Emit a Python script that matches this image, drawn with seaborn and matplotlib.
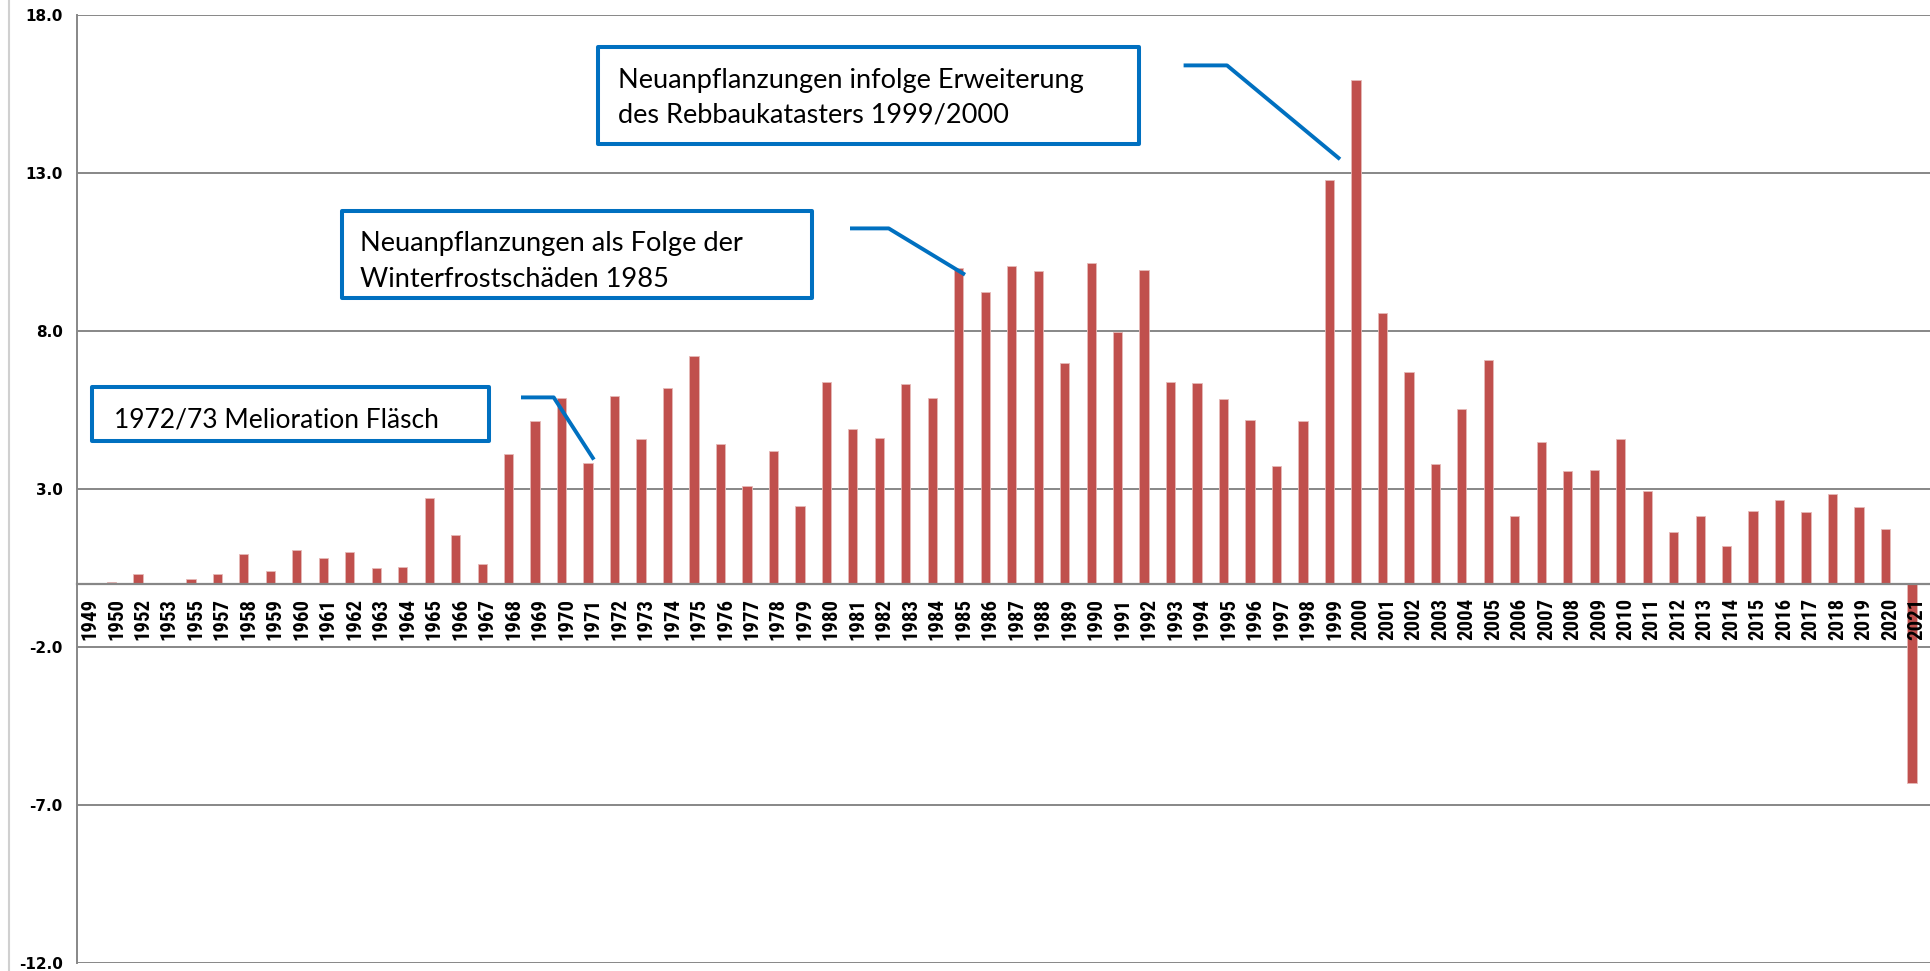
import matplotlib
matplotlib.use("Agg")
import numpy as np
import pandas as pd
import matplotlib.pyplot as plt
import seaborn as sns
from matplotlib import font_manager as fm
from matplotlib.lines import Line2D
from matplotlib.patches import Rectangle
import matplotlib.transforms as mtransforms

# ---------------- data ----------------
years = ["1949", "1950", "1952", "1953", "1955", "1957", "1958", "1959", "1960",
         "1961", "1962", "1963", "1964", "1965", "1966", "1967", "1968", "1969",
         "1970", "1971", "1972", "1973", "1974", "1975", "1976", "1977", "1978",
         "1979", "1980", "1981", "1982", "1983", "1984", "1985", "1986", "1987",
         "1988", "1989", "1990", "1991", "1992", "1993", "1994", "1995", "1996",
         "1997", "1998", "1999", "2000", "2001", "2002", "2003", "2004", "2005",
         "2006", "2007", "2008", "2009", "2010", "2011", "2012", "2013", "2014",
         "2015", "2016", "2017", "2018", "2019", "2020", "2021"]
values = [0.03, 0.07, 0.31, 0.03, 0.16, 0.30, 0.93, 0.42, 1.07,
          0.81, 1.01, 0.49, 0.52, 2.73, 1.56, 0.62, 4.10, 5.14,
          5.87, 3.83, 5.94, 4.60, 6.20, 7.20, 4.44, 3.10, 4.21,
          2.46, 6.40, 4.91, 4.61, 6.33, 5.89, 10.00, 9.23, 10.05,
          9.89, 6.99, 10.15, 7.97, 9.92, 6.38, 6.35, 5.86, 5.20,
          3.74, 5.14, 12.78, 15.94, 8.58, 6.70, 3.81, 5.52, 7.10,
          2.15, 4.49, 3.56, 3.59, 4.60, 2.95, 1.64, 2.14, 1.19,
          2.31, 2.65, 2.28, 2.83, 2.44, 1.73, -6.30]
y_ticks = [-12.0, -7.0, -2.0, 3.0, 8.0, 13.0, 18.0]
y_tick_labels = ["-12.0", "-7.0", "-2.0", "3.0", "8.0", "13.0", "18.0"]

note1 = ["1972/73 Melioration Fläsch"]
note2 = ["Neuanpflanzungen als Folge der", "Winterfrostschäden 1985"]
note3 = ["Neuanpflanzungen infolge Erweiterung", "des Rebbaukatasters 1999/2000"]

df = pd.DataFrame({"Jahr": years, "Wert": values})

# ---------------- style ----------------
W_PX, H_PX = 1930, 971
BAR = "#C0504D"
GRID = "#878787"
BLUE = "#0070C0"

sns.set_theme(style="white")
names = {f.name for f in fm.fontManager.ttflist}
xfont = next((n for n in ["Roboto Condensed", "Archivo Narrow", "PT Sans Narrow",
                          "Liberation Sans"] if n in names), "DejaVu Sans")
plt.rcParams["font.family"] = ["DejaVu Sans"]

fig = plt.figure(figsize=(W_PX / 100, H_PX / 100), dpi=100)
L, R = 76.5, 1930.0
TOP, BOT = 15.2, 963.0   # pixel rows (from top) of 18 and -12
ax = fig.add_axes([L / W_PX, 1 - BOT / H_PX, (R - L) / W_PX, (BOT - TOP) / H_PX])

sns.barplot(data=df, x="Jahr", y="Wert", order=years, color=BAR, saturation=1,
            width=0.35, errorbar=None, edgecolor="#E6B9B8", linewidth=0.6, ax=ax)

ax.set_xlim(-0.32, len(years) - 0.32)
ax.set_ylim(-12, 18)
ax.set_yticks(y_ticks)
ax.set_yticklabels(y_tick_labels)
ax.set_xlabel("")
ax.set_ylabel("")

ax.yaxis.grid(True, color=GRID, linewidth=1.4)
ax.xaxis.grid(False)
ax.set_axisbelow(True)
ax.xaxis.set_zorder(4)   # year labels drawn over the bars

for s in ("top", "right"):
    ax.spines[s].set_visible(False)
ax.spines["left"].set_color(GRID)
ax.spines["left"].set_linewidth(1.4)
ax.spines["bottom"].set_position(("data", 0))
ax.spines["bottom"].set_color(GRID)
ax.spines["bottom"].set_linewidth(1.6)
ax.spines["bottom"].set_zorder(3)

ax.tick_params(axis="x", length=0, pad=10, labelrotation=90)
ax.tick_params(axis="y", length=0, pad=10)
xlabels = ax.get_xticklabels()
for lab in xlabels:
    lab.set_fontfamily([xfont, "DejaVu Sans"])
    lab.set_fontsize(15)
    lab.set_fontweight("bold")
    lab.set_color("black")
    lab.set_transform(lab.get_transform() +
                      mtransforms.ScaledTranslation(5 / 100, 0, fig.dpi_scale_trans))
ylabels = ax.get_yticklabels()
for lab in ylabels:
    lab.set_fontfamily(["DejaVu Sans"])
    lab.set_fontsize(11)
    lab.set_fontweight("bold")
    lab.set_color("black")

# chart border at the far left
fig.add_artist(Line2D([9 / W_PX, 9 / W_PX], [0, 1], transform=fig.transFigure,
                      color="#D0D0D0", linewidth=1.5))

fig.canvas.draw()
renderer = fig.canvas.get_renderer()

# fit the year labels to the reference length (~42 px for a 4-digit year)
h = xlabels[0].get_window_extent(renderer).height
xs = 15 * 42.0 / h
for lab in xlabels:
    lab.set_fontsize(xs)


# ---------------- annotations ----------------
def P(px, py):
    return ax.transData.inverted().transform((px, H_PX - py))


def box(x0, y0, x1, y1):
    a = P(x0, y1)
    b = P(x1, y0)
    ax.add_patch(Rectangle((a[0], a[1]), b[0] - a[0], b[1] - a[1],
                           facecolor="white", edgecolor=BLUE, linewidth=2.9,
                           zorder=6, clip_on=False, joinstyle="round"))


def connector(pts):
    d = np.array([P(x, y) for x, y in pts])
    ax.plot(d[:, 0], d[:, 1], color=BLUE, linewidth=2.8, zorder=7,
            clip_on=False, solid_capstyle="butt", solid_joinstyle="round")


def lines_text(lines, x_left, y_centers, target_width):
    texts = []
    for line, yc in zip(lines, y_centers):
        p = P(x_left, yc)
        t = ax.text(p[0], p[1], line, ha="left", va="center_baseline",
                    fontsize=17, family=["Lato", "DejaVu Sans"], color="black",
                    zorder=8, clip_on=False)
        texts.append(t)
    w = texts[0].get_window_extent(renderer).width
    fs = 17 * target_width / w
    for t in texts:
        t.set_fontsize(fs)


box(91.5, 387.3, 488.6, 441.1)
lines_text(note1, 113.6, [417.0], 324.0)
connector([(521, 397.4), (553.7, 397.4), (593.9, 459.6)])

box(342, 211, 812, 297.5)
lines_text(note2, 359.5, [240.7, 276.7], 384.0)
connector([(850, 228.4), (888.7, 228.4), (965, 274.7)])

box(598, 47, 1138.7, 144.3)
lines_text(note3, 618, [77.7, 112.0], 466.0)
connector([(1183.6, 65.4), (1227, 65.4), (1340, 159.2)])

fig.savefig("out.png", dpi=100, facecolor="white")
